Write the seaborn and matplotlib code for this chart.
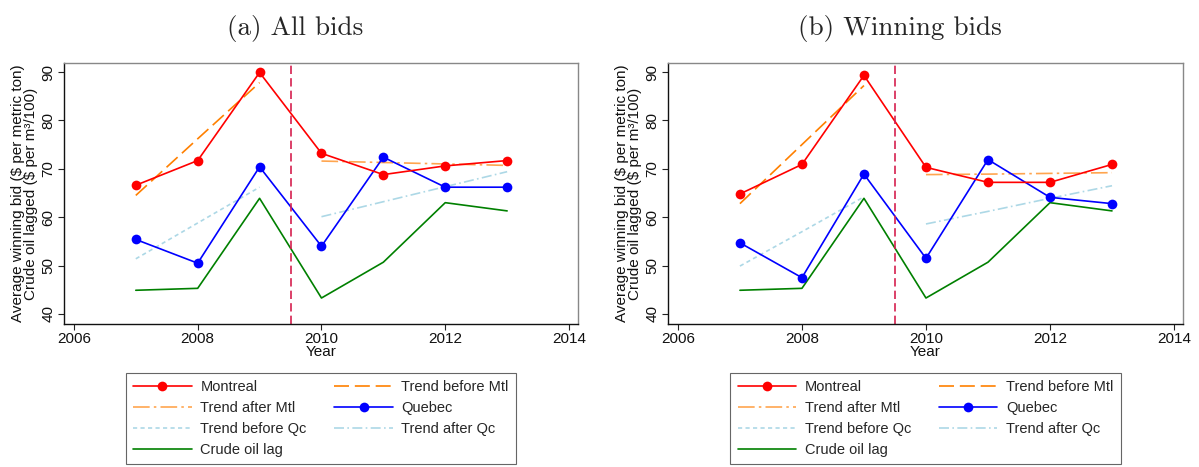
import numpy as np
import pandas as pd
import seaborn as sns
import matplotlib.pyplot as plt
from matplotlib.lines import Line2D

sns.set_theme(style='white')
plt.rcParams['font.family'] = ['Liberation Sans', 'DejaVu Sans']

years = [2007, 2008, 2009, 2010, 2011, 2012, 2013]
years_before = [2007, 2008, 2009]
years_after = [2010, 2011, 2012, 2013]
crude_oil = [44.9, 45.3, 63.9, 43.3, 50.7, 63.0, 61.3]

# (a) all bids
mtl_all = [66.6, 71.7, 89.9, 73.2, 68.8, 70.6, 71.7]
qc_all = [55.4, 50.5, 70.4, 54.0, 72.4, 66.2, 66.2]
mtl_before_all = [64.5, 76.2, 87.8]
mtl_after_all = [71.6, 71.3, 71.0, 70.7]
qc_before_all = [51.4, 58.8, 66.2]
qc_after_all = [60.1, 63.2, 66.3, 69.4]

# (b) winning bids
mtl_win = [64.8, 70.9, 89.3, 70.3, 67.2, 67.2, 70.9]
qc_win = [54.7, 47.5, 68.9, 51.5, 71.9, 64.1, 62.8]
mtl_before_win = [62.8, 75.0, 87.2]
mtl_after_win = [68.8, 68.9, 69.05, 69.2]
qc_before_win = [49.9, 57.0, 64.2]
qc_after_win = [58.6, 61.2, 63.9, 66.5]

panels = [
    ('(a) All bids', mtl_all, qc_all, mtl_before_all, mtl_after_all, qc_before_all, qc_after_all),
    ('(b) Winning bids', mtl_win, qc_win, mtl_before_win, mtl_after_win, qc_before_win, qc_after_win),
]

styles = {
    'Montreal': dict(color='#ff0000', lw=1.2, marker='o', ms=7),
    'Trend before Mtl': dict(color='#ff8000', lw=1.2, dashes=(9, 3.5)),
    'Trend after Mtl': dict(color='#ffa54f', lw=1.2, dashes=(10, 2.5, 1.5, 2.5)),
    'Quebec': dict(color='#0000ff', lw=1.2, marker='o', ms=7),
    'Trend before Qc': dict(color='#add8e6', lw=1.2, dashes=(2.5, 2)),
    'Trend after Qc': dict(color='#add8e6', lw=1.2, dashes=(6, 2, 1, 2)),
    'Crude oil lag': dict(color='#008000', lw=1.2),
}

fig = plt.figure(figsize=(11.99, 4.67), dpi=100)
W, H = 1199, 467
axes_px = [(64, 578), (668, 1183)]
for (x0, x1), (title, mtl, qc, mb, ma, qb, qa) in zip(axes_px, panels):
    ax = fig.add_axes([x0 / W, 1 - 324 / H, (x1 - x0) / W, (324 - 63) / H])
    series = [
        ('Montreal', years, mtl),
        ('Trend before Mtl', years_before, mb),
        ('Trend after Mtl', years_after, ma),
        ('Quebec', years, qc),
        ('Trend before Qc', years_before, qb),
        ('Trend after Qc', years_after, qa),
        ('Crude oil lag', years, crude_oil),
    ]
    handles = {}
    # draw trends and oil first, then the city lines on top
    order = [6, 4, 5, 1, 2, 3, 0]
    for i in order:
        name, xs, ys = series[i]
        st = dict(styles[name])
        df = pd.DataFrame({'year': xs, 'value': ys})
        kw = dict(color=st['color'], linewidth=st['lw'])
        if 'marker' in st:
            kw.update(marker='o', markersize=st['ms'], markeredgewidth=0)
        sns.lineplot(data=df, x='year', y='value', ax=ax, **kw)
        line = ax.lines[-1]
        if 'dashes' in st:
            line.set_dashes(st['dashes'])
        h = Line2D([], [], color=st['color'], linewidth=st['lw'],
                   marker=kw.get('marker', None), markersize=st.get('ms', 0),
                   markeredgewidth=0)
        if 'dashes' in st:
            h.set_dashes(st['dashes'])
        handles[name] = h
    ax.axvline(2009.5, color='#d6204f', linewidth=1.2, dashes=(5, 2.5))

    ax.set_xlim(2005.84, 2014.145)
    ax.set_ylim(37.93, 91.86)
    ax.set_xticks([2006, 2008, 2010, 2012, 2014])
    ax.set_yticks([40, 50, 60, 70, 80, 90])
    ax.tick_params(axis='both', direction='out', length=4, width=0.8,
                   color='#222222', labelcolor='#111111', labelsize=11, pad=2,
                   bottom=True, left=True)
    for lab in ax.get_yticklabels():
        lab.set_rotation(90)
        lab.set_va('center')
    ax.set_xlabel('Year', fontsize=11, labelpad=-1, color='#111111')
    ax.set_ylabel('Average winning bid ($ per metric ton)\nCrude oil lagged ($ per m³/100)',
                  fontsize=11, labelpad=3, linespacing=0.85, color='#111111')
    for s in ['left', 'bottom']:
        ax.spines[s].set_color('#111111')
        ax.spines[s].set_linewidth(1.0)
    for s in ['top', 'right']:
        ax.spines[s].set_color('#888888')
        ax.spines[s].set_linewidth(1.0)
    ax.set_title(title, fontsize=19.5, family='cmr10', pad=20, x=0.45)

    leg_order = ['Montreal', 'Trend after Mtl', 'Trend before Qc', 'Crude oil lag',
                 'Trend before Mtl', 'Quebec', 'Trend after Qc']
    leg = ax.legend([handles[n] for n in leg_order], leg_order, ncol=2,
                    loc='upper center', bbox_to_anchor=(0.5, -0.188),
                    borderaxespad=0, fontsize=10.5, handlelength=4,
                    columnspacing=1.9, labelspacing=0.47, handletextpad=0.6,
                    borderpad=0.5, frameon=True, fancybox=False,
                    edgecolor='#666666', framealpha=1)
    leg.get_frame().set_linewidth(0.8)

fig.savefig('out.png', dpi=100)
